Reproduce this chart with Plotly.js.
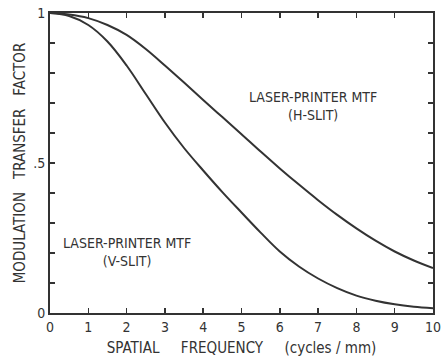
<!DOCTYPE html>
<html>
<head>
<meta charset="utf-8">
<script src="https://cdn.plot.ly/plotly-3.0.1.min.js"></script>
<style>html,body{margin:0;padding:0;background:#fff;}#chart{width:442px;height:360px;}</style>
</head>
<body>
<div id="chart"></div>
<script>
const freq = [0,0.5,1,1.5,2,2.5,3,3.5,4,4.5,5,5.5,6,6.5,7,7.5,8,8.5,9,9.5,10];
const mtfH = [1,0.995,0.983,0.96,0.927,0.88,0.825,0.768,0.71,0.653,0.596,0.538,0.482,0.428,0.376,0.327,0.282,0.241,0.205,0.175,0.15];
const mtfV = [1,0.99,0.96,0.905,0.825,0.73,0.635,0.55,0.475,0.403,0.335,0.268,0.205,0.155,0.115,0.083,0.058,0.041,0.029,0.021,0.016];
const xTicks = [0,1,2,3,4,5,6,7,8,9,10];
const yTicks = [0,0.1,0.2,0.3,0.4,0.5,0.6,0.7,0.8,0.9,1];
const yTickText = ["0","","","","",".5","","","","","1"];
const labelH = "LASER-PRINTER MTF<br>(H-SLIT)";
const labelV = "LASER-PRINTER MTF<br>(V-SLIT)";

const ink = "#333";
const font = "DejaVu Sans Condensed, DejaVu Sans, sans-serif";

const traces = [
  {x: freq, y: mtfH, mode: "lines", line: {color: ink, width: 2, shape: "spline", smoothing: 1}, hoverinfo: "skip"},
  {x: freq, y: mtfV, mode: "lines", line: {color: ink, width: 2, shape: "spline", smoothing: 1}, hoverinfo: "skip"}
];

const layout = {
  width: 442, height: 360,
  margin: {l: 50, r: 9, t: 13, b: 47},
  paper_bgcolor: "#fff", plot_bgcolor: "#fff",
  showlegend: false,
  font: {family: font, color: ink, size: 14},
  xaxis: {
    range: [0, 10], tickvals: xTicks, ticktext: xTicks.map(String),
    ticks: "inside", ticklen: 5, tickwidth: 1.5, tickcolor: ink,
    showline: true, linecolor: ink, linewidth: 2, mirror: "ticks",
    showgrid: false, zeroline: false, ticklabeloverflow: "allow",
    tickfont: {family: font, size: 14, color: ink},
    title: {text: "SPATIAL     FREQUENCY     (cycles / mm)", font: {family: font, size: 15, color: ink}, standoff: 9}
  },
  yaxis: {
    range: [0, 1], tickvals: yTicks, ticktext: yTickText,
    ticks: "inside", ticklen: 5, tickwidth: 1.5, tickcolor: ink,
    showline: true, linecolor: ink, linewidth: 2, mirror: "ticks",
    showgrid: false, zeroline: false,
    tickfont: {family: font, size: 14, color: ink},
    title: {text: "MODULATION   TRANSFER   FACTOR", font: {family: font, size: 15, color: ink}, standoff: 4}
  },
  annotations: [
    {x: 6.87, y: 0.69, xref: "x", yref: "y", text: labelH, showarrow: false, align: "center",
     font: {family: font, size: 14, color: ink}},
    {x: 2.0, y: 0.205, xref: "x", yref: "y", text: labelV, showarrow: false, align: "center",
     font: {family: font, size: 14, color: ink}}
  ]
};

Plotly.newPlot("chart", traces, layout, {staticPlot: true, displayModeBar: false});
</script>
</body>
</html>
